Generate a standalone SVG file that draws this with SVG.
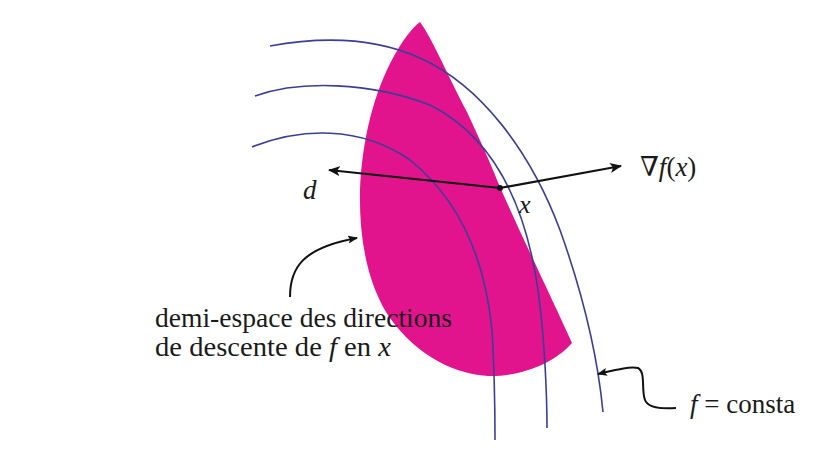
<svg xmlns="http://www.w3.org/2000/svg" width="813" height="459" viewBox="0 0 813 459">
<style>
.lvl{fill:none;stroke:#3a3f95;stroke-width:1.6}
.arr{fill:none;stroke:#111;stroke-width:2.2}
.lead{fill:none;stroke:#111;stroke-width:2}
.t{font-family:"Liberation Serif","DejaVu Serif",serif;fill:#1a1a1a}
.it{font-style:italic}
</style>
<defs>
<marker id="ah" viewBox="0 0 12 10" refX="11" refY="5" markerWidth="12" markerHeight="10" markerUnits="userSpaceOnUse" orient="auto">
<path d="M0,0 L12,5 L0,10 L3,5 Z" fill="#111"/>
</marker>
<marker id="ah2" viewBox="0 0 10 8" refX="9" refY="4" markerWidth="10" markerHeight="8" markerUnits="userSpaceOnUse" orient="auto">
<path d="M0,0 L10,4 L0,8 L2,4 Z" fill="#111"/>
</marker>
</defs>
<rect width="813" height="459" fill="#fff"/>
<g id="halfspace">
<path d="M420,22 C432,38 445,70 467,112 C480,140 490,162 497,180 C515,222 548,290 572,343 C556,362 522,377 488,376 C450,374 410,350 386,312 C366,278 359,235 360,190 C362,140 374,92 394,56 C403,40 412,28 420,22 Z" fill="#e2148d"/>
</g>
<g id="levelsets">
<path class="lvl" d="M270,46 C330,35 380,40 420,58 C480,85 530,150 560,230 C585,300 598,360 603,412"/>
<path class="lvl" d="M255,96 C300,80 370,82 430,105 C490,135 525,200 538,290 C545,340 547,400 547,428"/>
<path class="lvl" d="M252,147 C300,128 360,125 410,160 C460,200 485,260 492,330 C495,380 495,420 495,440"/>
</g>
<g id="connectors">
<line class="arr" x1="500" y1="188" x2="329" y2="170" marker-end="url(#ah)"/>
<line class="arr" x1="500" y1="188" x2="621" y2="166" marker-end="url(#ah)"/>
<circle cx="500" cy="188" r="3" fill="#111"/>
<path class="lead" d="M290,297 C290,268 302,248 357,238" marker-end="url(#ah2)"/>
<path class="lead" d="M676,408 C660,409 648,408 645,400 C641,390 646,372 638,368 C630,366 615,370 598,374" marker-end="url(#ah2)"/>
</g>
<g id="labels" font-family="'Liberation Serif','DejaVu Serif',serif">
<text class="t it" x="303" y="199" font-size="27">d</text>
<text class="t it" x="519" y="213" font-size="26">x</text>
<text class="t" x="640" y="176" font-size="27">∇<tspan class="it">f</tspan>(<tspan class="it">x</tspan>)</text>
<text class="t" x="155" y="327" font-size="27" textLength="297" lengthAdjust="spacingAndGlyphs">demi-espace des directions</text>
<text class="t" x="155" y="356" font-size="27" textLength="236" lengthAdjust="spacingAndGlyphs">de descente de <tspan class="it">f</tspan> en <tspan class="it">x</tspan></text>
<text class="t" x="690" y="413" font-size="27"><tspan class="it">f</tspan> = consta</text>
</g>
</svg>
